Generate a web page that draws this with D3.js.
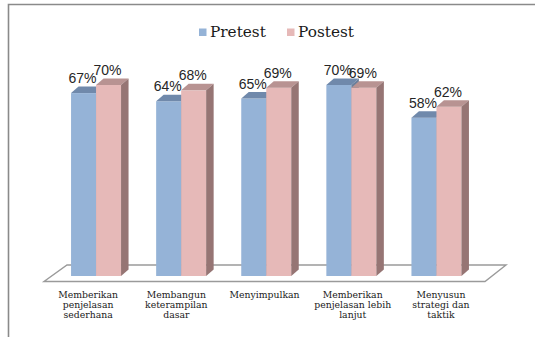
<!DOCTYPE html>
<html>
<head>
<meta charset="utf-8">
<script src="https://cdn.jsdelivr.net/npm/d3@7"></script>
<style>
  html, body { margin: 0; padding: 0; background: #fff; }
  svg { display: block; }
</style>
</head>
<body>
<svg id="chart" width="535" height="337"></svg>
<script>
// Category labels (line-broken) and the two test series, in percent
const categories = [
  "Memberikan penjelasan sederhana",
  "Membangun keterampilan dasar",
  "Menyimpulkan",
  "Memberikan penjelasan lebih lanjut",
  "Menyusun strategi dan taktik"
];
const categoryLines = [
  ["Memberikan", "penjelasan", "sederhana"],
  ["Membangun", "keterampilan", "dasar"],
  ["Menyimpulkan"],
  ["Memberikan", "penjelasan lebih", "lanjut"],
  ["Menyusun", "strategi dan", "taktik"]
];
const seriesNames = ["Pretest", "Postest"];
const pretest = [67, 64, 65, 70, 58];
const postest = [70, 68, 69, 69, 62];

const colors = {
  Pretest: { front: "#95b3d7", top: "#7089ab", side: "#6a7f9c" },
  Postest: { front: "#e6b9b8", top: "#b89392", side: "#967574" }
};

const svg = d3.select("#chart");

// Outer frame (top and left edges visible)
svg.append("path")
  .attr("d", "M8.5,337 L8.5,4.5 L535,4.5")
  .attr("fill", "none")
  .attr("stroke", "#8a8a8a")
  .attr("stroke-width", 1.6);

// 3D projection offsets for the depth of each bar
const dx = 7.5, dy = -6.5;

// Scales
const x0 = d3.scaleBand().domain(categories).range([53.5, 479]).paddingInner(0);
const x1 = d3.scaleBand().domain(seriesNames).range([0, x0.bandwidth()]).paddingOuter(0.702).paddingInner(0);
const y = d3.scaleLinear().domain([0, 100]).range([276, 3]);
const xFloor = d3.scaleBand().domain(categories).range([44, 485]);

// Floor plate
const floorFront = 281.5, floorBack = 265;
svg.append("path")
  .attr("d", `M${xFloor.range()[0]},${floorFront} L${xFloor.range()[1]},${floorFront} L${xFloor.range()[1] + 21},${floorBack} L${xFloor.range()[0] + 23},${floorBack} Z`)
  .attr("fill", "#fff")
  .attr("stroke", "#9a9a9a")
  .attr("stroke-width", 1.4);

// Bars
const data = categories.map((c, i) => ({
  cat: c,
  values: [
    { name: "Pretest", v: pretest[i] },
    { name: "Postest", v: postest[i] }
  ]
}));

const groups = svg.append("g").selectAll("g")
  .data(data)
  .join("g")
  .attr("transform", d => `translate(${x0(d.cat)},0)`);

groups.each(function(d) {
  const g = d3.select(this);
  d.values.forEach(s => {
    const xl = x1(s.name), w = x1.bandwidth();
    const yt = y(s.v), yb = y(0);
    const c = colors[s.name];
    g.append("rect")
      .attr("x", xl).attr("y", yt)
      .attr("width", w).attr("height", yb - yt)
      .attr("fill", c.front);
    g.append("path")
      .attr("d", `M${xl},${yt} L${xl + w},${yt} L${xl + w + dx},${yt + dy} L${xl + dx},${yt + dy} Z`)
      .attr("fill", c.top);
    g.append("path")
      .attr("d", `M${xl + w},${yt} L${xl + w + dx},${yt + dy} L${xl + w + dx},${yb + dy} L${xl + w},${yb} Z`)
      .attr("fill", c.side);
  });
});

// Value labels
groups.each(function(d) {
  const g = d3.select(this);
  d.values.forEach(s => {
    g.append("text")
      .attr("x", x1(s.name) + x1.bandwidth() / 2 - 1)
      .attr("y", y(s.v) - 10)
      .attr("text-anchor", "middle")
      .attr("font-family", "Liberation Sans, Arial, sans-serif")
      .attr("font-size", 14)
      .attr("fill", "#262626")
      .text(s.v + "%");
  });
});

// Category labels along the front edge of the floor
const catLabels = svg.append("g").selectAll("text")
  .data(categories)
  .join("text")
  .attr("text-anchor", "middle")
  .attr("font-family", "DejaVu Serif, serif")
  .attr("font-size", 9.3)
  .attr("fill", "#1a1a1a")
  .attr("transform", d => `translate(${xFloor(d) + xFloor.bandwidth() / 2},298)`);

catLabels.each(function(d, i) {
  const t = d3.select(this);
  categoryLines[i].forEach((line, j) => {
    t.append("tspan").attr("x", 0).attr("y", j * 10.2).text(line);
  });
});

// Legend
const legend = svg.append("g");
const legendItems = [
  { name: "Pretest", x: 199 },
  { name: "Postest", x: 287 }
];
legendItems.forEach(it => {
  legend.append("rect")
    .attr("x", it.x).attr("y", 28.5)
    .attr("width", 7.5).attr("height", 7.5)
    .attr("fill", colors[it.name].front);
  legend.append("text")
    .attr("x", it.x + 11).attr("y", 37)
    .attr("font-family", "DejaVu Serif, serif")
    .attr("font-size", 15.3)
    .attr("fill", "#1a1a1a")
    .text(it.name);
});
</script>
</body>
</html>
